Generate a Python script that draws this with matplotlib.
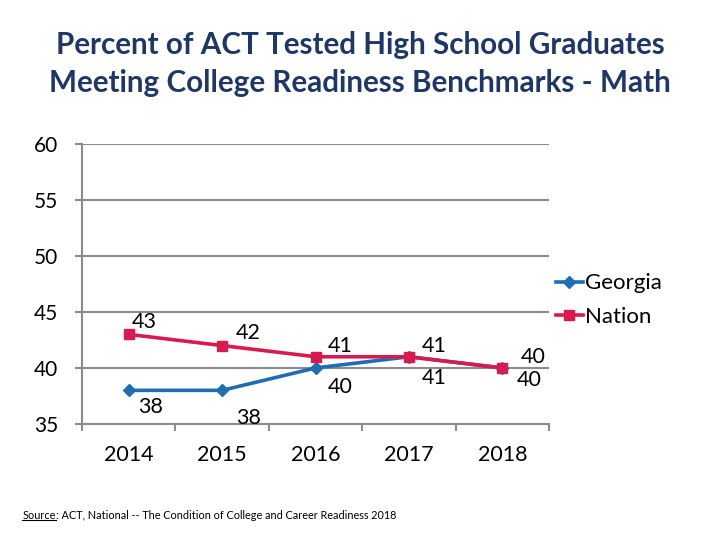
import matplotlib
matplotlib.use("Agg")
import matplotlib.pyplot as plt
from matplotlib.lines import Line2D

plt.rcParams['font.family'] = ['Lato', 'DejaVu Sans']

years = ["2014", "2015", "2016", "2017", "2018"]
georgia = [38, 38, 40, 41, 40]
nation = [43, 42, 41, 41, 40]
yticks = [35, 40, 45, 50, 55, 60]

georgia_color = '#1f6db2'
nation_color = '#d81b4f'
grid_color = '#8c8c8c'

fig = plt.figure(figsize=(7.2, 5.4), dpi=100)
ax = fig.add_axes([0.114, 0.215, 0.6485, 0.518])

x = list(range(len(years)))
ax.plot(x, georgia, color=georgia_color, lw=2.6, marker='D', ms=6, label='Georgia', zorder=3)
ax.plot(x, nation, color=nation_color, lw=2.6, marker='s', ms=7.5, label='Nation', zorder=3)

# data labels
g_off = [(16, -12), (19, -20), (18, -14), (18, -15), (19, -9)]
n_off = [(11, 9), (19, 9), (18, 8), (18, 8), (22, 8)]
for i, v in enumerate(georgia):
    ax.annotate(str(v), (i, v), xytext=g_off[i], textcoords='offset points',
                ha='center', va='center', fontsize=15.5, color='black')
for i, v in enumerate(nation):
    ax.annotate(str(v), (i, v), xytext=n_off[i], textcoords='offset points',
                ha='center', va='center', fontsize=15.5, color='black')

ax.set_xlim(-0.5, len(years) - 0.5)
ax.set_ylim(35, 60)
ax.set_yticks(yticks)
ax.set_yticklabels([str(t) for t in yticks])
ax.set_xticks(x)
ax.set_xticklabels(years)
ax.set_xticks([i - 0.5 for i in range(len(years) + 1)], minor=True)
ax.tick_params(axis='x', which='major', length=0, pad=15, labelsize=15.5)
ax.tick_params(axis='x', which='minor', length=5, color=grid_color, width=1.5, direction='out')
ax.tick_params(axis='y', which='major', length=5, color=grid_color, width=1.5, pad=12, labelsize=15)
ax.yaxis.grid(True, color=grid_color, lw=1.5)
ax.set_axisbelow(True)
for s in ['top', 'right']:
    ax.spines[s].set_visible(False)
for s in ['left', 'bottom']:
    ax.spines[s].set_color(grid_color)
    ax.spines[s].set_linewidth(1.5)

leg = fig.legend(loc='upper left', bbox_to_anchor=(0.76, 0.51), frameon=False,
                 fontsize=16, handlelength=1.2, handletextpad=0.1, labelspacing=0.6,
                 borderaxespad=0)

fig.text(0.5, 0.882, "Percent of ACT Tested High School Graduates\nMeeting College Readiness Benchmarks - Math",
         ha='center', va='center', fontsize=21.3, fontweight='bold', color='#1f3768', linespacing=1.42)

# source line with underlined "Source"
t1 = fig.text(0.031, 0.045, "Source", fontsize=7.8, ha='left', va='center')
fig.canvas.draw()
r = fig.canvas.get_renderer()
bb = t1.get_window_extent(renderer=r).transformed(fig.transFigure.inverted())
fig.add_artist(Line2D([bb.x0, bb.x1], [bb.y0 + 0.003, bb.y0 + 0.003], color='black', lw=0.8,
                      transform=fig.transFigure))
fig.text(bb.x1, 0.045, ": ACT, National -- The Condition of College and Career Readiness 2018",
         fontsize=7.8, ha='left', va='center')

fig.savefig("out.png", dpi=100)
